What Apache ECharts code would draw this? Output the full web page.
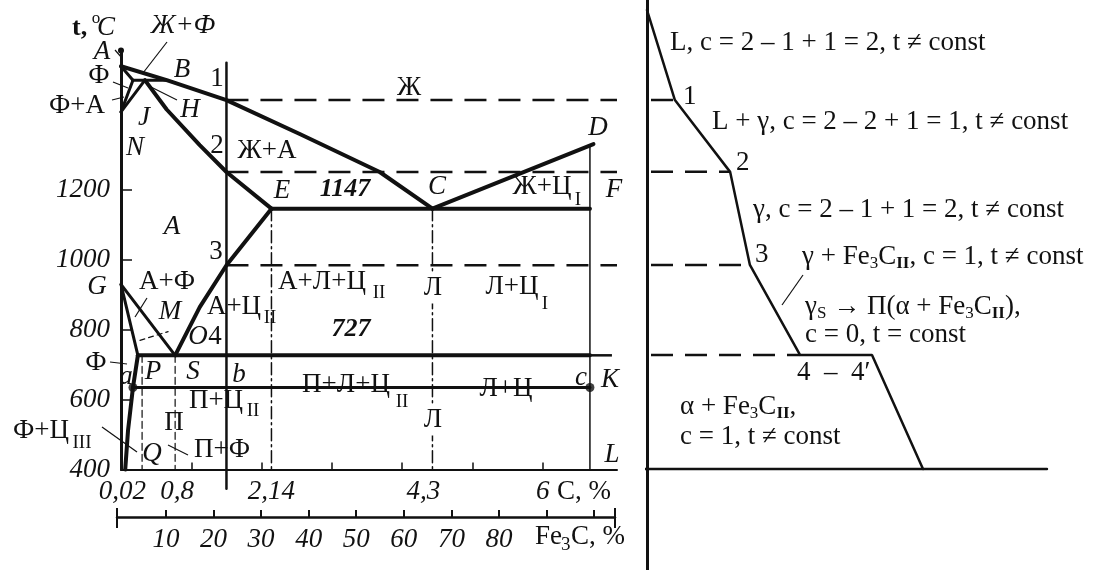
<!DOCTYPE html>
<html>
<head>
<meta charset="utf-8">
<title>Fe - Fe3C</title>
<script src="https://cdn.jsdelivr.net/npm/echarts@6.0.0/dist/echarts.min.js"></script>
<style>
html, body { margin: 0; padding: 0; background: #fff; }
#chart { width: 1096px; height: 570px; }
</style>
</head>
<body>
<div id="chart"></div>
<script>
// diagram lines as [C, %; t, °C]
const liquidusABC = [[0, 1555], [0.65, 1515], [1.5, 1458], [2.55, 1360], [3.68, 1252], [4.43, 1147]];
const liquidusCD = [[4.43, 1147], [6.72, 1332]];
const solidusJE = [[0.34, 1515], [0.65, 1431], [1.12, 1329], [1.5, 1252], [2.14, 1147]];
const lineAH = [[0, 1555], [0.17, 1515]];
const lineHB = [[0.17, 1515], [0.65, 1515]];
const lineNH = [[0, 1424], [0.17, 1515]];
const lineNJ = [[0, 1424], [0.34, 1515]];
const lineECF = [[2.14, 1147], [6.67, 1147]];
const lineES = [[0.77, 727], [1.12, 865], [1.5, 985], [2.14, 1147]];
const lineGS = [[0, 930], [0.77, 727]];
const lineGP = [[0, 930], [0.24, 727]];
const linePQ = [[0.24, 727], [0.17, 635], [0.1, 512], [0.06, 400]];
const linePSK = [[0.24, 727], [6.67, 727]];
const lineABC = [[0.17, 635], [6.67, 635]];
const pointsAC = [[0.17, 635], [6.67, 635]];
const lineDF = [[6.67, 1330], [6.67, 400]];
const lineMO = [[0.27, 770], [0.67, 795]];
const alloyLine = [[1.5, 1565], [1.5, 345]];
const dashP = [[0.3, 727], [0.3, 400]];
const dashS = [[0.77, 727], [0.77, 400]];
const dashE = [[2.14, 1147], [2.14, 400]];
const dashC = [[4.43, 1147], [4.43, 400]];

// cooling curve (time, arbitrary units; t, °C)
const coolTime = [0, 0.93, 2.77, 3.43, 5.1, 7.5, 9.2];
const coolTemp = [1716, 1458, 1252, 985, 727, 727, 400];
const projTemps = [1458, 1252, 985, 727];
const projStartC = [1.5, 1.5, 1.5, 6.67];
const projEndTime = [0.93, 2.77, 3.43, 5.1];
const baseTime = [-0.5, 13.33];

// axes
const tempTicks = [400, 600, 800, 1000, 1200];
const carbonLabels = [0.02, 0.8, 2.14, 4.3, 6];
const carbonTicks = [1, 2, 3, 4, 5, 6];
const cementiteTicks = [10, 20, 30, 40, 50, 60, 70, 80, 90, 100];
const cementiteLabels = [10, 20, 30, 40, 50, 60, 70, 80];

const SERIF = '"Liberation Serif", "DejaVu Serif", serif';
const F = {
  r: '27px ' + SERIF,
  i: 'italic 27px ' + SERIF,
  bi: 'italic bold 26px ' + SERIF,
  sub: '19px ' + SERIF
};
const INK = '#111';

function seg(data, width, extra, grid) {
  const s = {
    type: 'line', data: data, symbol: 'none', clip: false, silent: true,
    xAxisIndex: grid || 0, yAxisIndex: grid || 0,
    lineStyle: { color: INK, width: width, cap: 'round' }
  };
  if (extra) Object.assign(s.lineStyle, extra);
  return s;
}

const series = [
  seg(liquidusABC, 4), seg(liquidusCD, 4), seg(solidusJE, 4),
  seg(lineAH, 3), seg(lineHB, 3), seg(lineNH, 3), seg(lineNJ, 3),
  seg(lineECF, 4), seg(lineES, 4), seg(lineGS, 3), seg(lineGP, 3),
  seg(linePQ, 4), seg(linePSK, 4), seg(lineABC, 3), seg(lineDF, 1.5),
  seg(alloyLine, 2.5),
  seg(lineMO, 1.2, { type: [5, 4] }),
  seg(dashP, 1.2, { type: [7, 4] }), seg(dashS, 1.2, { type: [7, 4] }),
  seg(dashE, 1.5, { type: [12, 4, 2, 4] }), seg(dashC, 1.5, { type: [12, 4, 2, 4] }),
  {
    type: 'scatter', data: pointsAC, symbolSize: 9, silent: true,
    itemStyle: { color: INK }, xAxisIndex: 0, yAxisIndex: 0
  },
  seg(coolTime.map((t, i) => [t, coolTemp[i]]), 2.5, null, 1),
  seg(baseTime.map(t => [t, 400]), 2.5, null, 1)
];
projTemps.forEach((t, i) => {
  series.push(seg([[projStartC[i], t], [7.055, t]], 2.5, { type: [22, 12], cap: 'butt' }, 0));
  series.push(seg([[-1, t], [projEndTime[i], t]], 2.5, { type: [22, 12], cap: 'butt' }, 1));
});

// annotations
const g = [];
function txt(s, x, y, font, extra) {
  g.push({
    type: 'text', x: x, y: y, z: 10, silent: true,
    style: Object.assign({ text: s, font: font || F.r, fill: INK, align: 'center', verticalAlign: 'middle' }, extra || {})
  });
}
function ln(x1, y1, x2, y2, w) {
  g.push({ type: 'line', z: 10, silent: true, shape: { x1: x1, y1: y1, x2: x2, y2: y2 }, style: { stroke: INK, lineWidth: w || 1.2 } });
}
const L = { align: 'left' };
const WB = { backgroundColor: '#fff', padding: [2, 2] };

txt('t,', 72, 28, 'bold 26px ' + SERIF, L);
txt('o', 96, 19, '17px ' + SERIF);
txt('C', 106, 28, F.i);
txt('Ж+Ф', 183, 26, F.i);
txt('A', 102, 52, F.i);
txt('Ф', 99, 76);
txt('B', 182, 70, F.i);
txt('1', 217, 79);
txt('Ф+А', 77, 106);
txt('J', 144, 118, F.i);
txt('H', 190, 110, F.i);
txt('N', 135, 148, F.i);
txt('2', 217, 146);
txt('Ж', 409, 88);
txt('Ж+А', 267, 151);
txt('E', 282, 191, F.i);
txt('1147', 345, 189, F.bi);
txt('C', 437, 187, F.i);
txt('Ж+Ц', 542, 187);
txt('I', 578, 200, F.sub);
txt('D', 598, 128, F.i);
txt('F', 614, 190, F.i);
txt('A', 172, 227, F.i);
txt('3', 216, 252);
txt('G', 97, 287, F.i);
txt('А+Ф', 167, 282);
txt('M', 170, 312, F.i);
txt('А+Ц', 234, 307);
txt('II', 270, 318, F.sub);
txt('O', 198, 337, F.i);
txt('4', 215, 337);
txt('А+Л+Ц', 322, 282);
txt('II', 379, 293, F.sub);
txt('Л', 433, 288, F.r, WB);
txt('Л+Ц', 512, 287);
txt('I', 545, 304, F.sub);
txt('727', 351, 329, F.bi);
txt('Ф', 96, 363);
txt('a', 126, 377, F.i);
txt('P', 153, 372, F.i);
txt('S', 193, 372, F.i);
txt('b', 239, 375, F.i);
txt('c', 581, 378, F.i);
txt('K', 610, 380, F.i);
txt('П+Ц', 216, 401);
txt('II', 253, 411, F.sub);
txt('П+Л+Ц', 346, 385);
txt('II', 402, 402, F.sub);
txt('Л+Ц', 506, 389);
txt('Л', 433, 420, F.r, WB);
txt('Ф+Ц', 41, 431);
txt('III', 82, 443, F.sub);
txt('П', 174, 423);
txt('Q', 152, 454, F.i);
txt('П+Ф', 222, 450);
txt('L', 612, 455, F.i);
txt('C, %', 557, 492, F.r, L);
txt('Fe', 535, 537, F.r, L);
txt('3', 561, 545, F.sub, L);
txt('C, %', 571, 537, F.r, L);

ln(167, 42, 143, 73);
ln(115, 50, 122, 58);
ln(113, 82, 128, 88);
ln(112, 100, 124, 97);
ln(177, 100, 147, 85);
ln(110, 362, 127, 364);
ln(135, 317, 147, 298);
ln(102, 427, 137, 452);
ln(168, 445, 188, 455);
ln(803, 275, 782, 305);
ln(117, 508, 117, 528, 2);
ln(615, 508, 615, 528, 2);

// right side notes
const RICH = {
  n: { font: F.r, fill: INK, lineHeight: 30 },
  s: { font: '17px ' + SERIF, fill: INK, lineHeight: 17, verticalAlign: 'bottom' },
  b: { font: 'bold 17px ' + SERIF, fill: INK, lineHeight: 17, verticalAlign: 'bottom' }
};
function note(s, x, y) {
  g.push({
    type: 'text', x: x, y: y, z: 10, silent: true,
    style: { text: s, rich: RICH, align: 'left', verticalAlign: 'middle' }
  });
}
note('{n|L, c = 2 – 1 + 1 = 2, t ≠ const}', 670, 43);
note('{n|1}', 683, 97);
note('{n|L + γ, c = 2 – 2 + 1 = 1, t ≠ const}', 712, 122);
note('{n|2}', 736, 163);
note('{n|γ, c = 2 – 1 + 1 = 2, t ≠ const}', 753, 210);
note('{n|3}', 755, 255);
note('{n|γ + Fe}{s|3}{n|C}{b|II}{n|, c = 1, t ≠ const}', 802, 257);
note('{n|γ}{s|S}{n| → П(α + Fe}{s|3}{n|C}{b|II}{n|),}', 805, 307);
note('{n|c = 0, t = const}', 805, 335);
note('{n|4  –  4′}', 797, 373);
note('{n|α + Fe}{s|3}{n|C}{b|II}{n|,}', 680, 407);
note('{n|c = 1, t ≠ const}', 680, 437);

const axisText = { fontFamily: SERIF, fontSize: 27, fontStyle: 'italic', color: INK };

const option = {
  animation: false,
  backgroundColor: '#fff',
  grid: [
    { left: 121, top: 50.5, width: 496, height: 419, outerBoundsMode: 'none' },
    { left: 647, top: 0, width: 400, height: 570, outerBoundsMode: 'none' },
    { left: 117, top: 507, width: 498, height: 10, outerBoundsMode: 'none' }
  ],
  xAxis: [
    {
      gridIndex: 0, type: 'value', min: 0, max: 7.055,
      axisLine: { show: true, lineStyle: { color: INK, width: 2 } },
      axisTick: { show: true, inside: true, length: 7, customValues: carbonTicks, lineStyle: { color: INK, width: 1.5 } },
      axisLabel: Object.assign({ customValues: carbonLabels, margin: 9, formatter: v => String(v).replace('.', ',') }, axisText),
      splitLine: { show: false }
    },
    { gridIndex: 1, type: 'value', min: 0, max: 13.333, show: false },
    {
      gridIndex: 2, type: 'value', min: -0.3, max: 104.4, position: 'bottom',
      axisLine: { show: true, lineStyle: { color: INK, width: 2.5 } },
      axisTick: { show: true, inside: true, length: 7, customValues: cementiteTicks, lineStyle: { color: INK, width: 2 } },
      axisLabel: Object.assign({ customValues: cementiteLabels, margin: 9, formatter: v => String(v) }, axisText),
      splitLine: { show: false }
    }
  ],
  yAxis: [
    {
      gridIndex: 0, type: 'value', min: 400, max: 1600,
      axisLine: { show: true, symbol: ['none', 'circle'], symbolSize: [6, 6], lineStyle: { color: INK, width: 3 } },
      axisTick: { show: true, inside: true, length: 11, customValues: tempTicks, lineStyle: { color: INK, width: 1.5 } },
      axisLabel: Object.assign({ customValues: tempTicks, margin: 11, formatter: v => String(v) }, axisText),
      splitLine: { show: false }
    },
    {
      gridIndex: 1, type: 'value', min: 110.4, max: 1744.8,
      axisLine: { show: true, lineStyle: { color: INK, width: 3 } },
      axisTick: { show: false }, axisLabel: { show: false }, splitLine: { show: false }
    },
    { gridIndex: 2, type: 'value', min: 0, max: 1, show: false }
  ],
  series: series,
  graphic: g
};

const chart = echarts.init(document.getElementById('chart'));
chart.setOption(option);
</script>
</body>
</html>
